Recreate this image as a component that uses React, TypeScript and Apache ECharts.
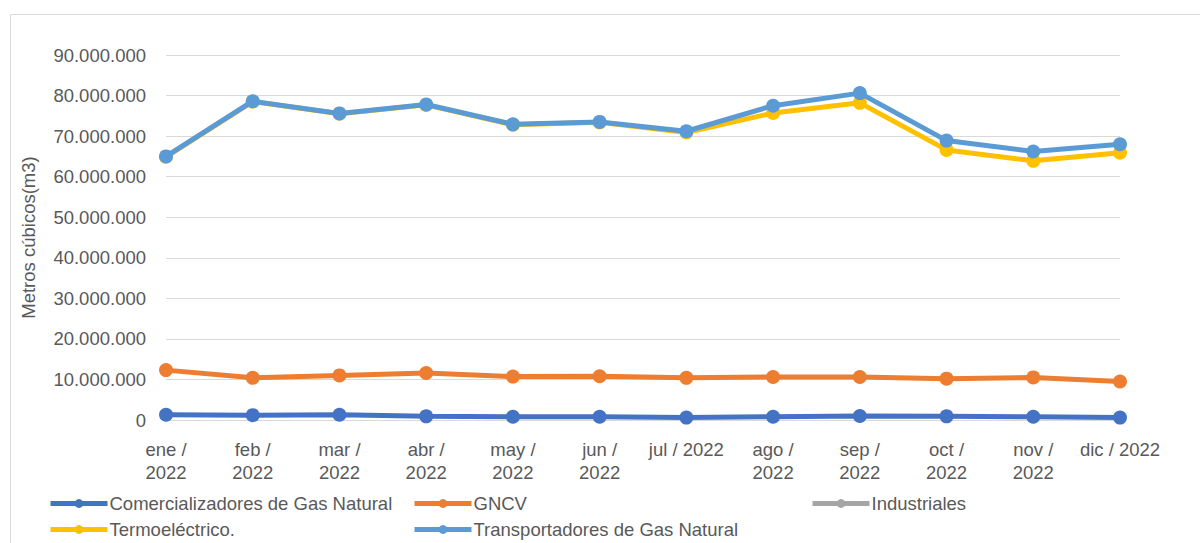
import React, { useEffect, useRef } from "react";
import * as echarts from "echarts";

const categories = [
  "ene / 2022", "feb / 2022", "mar / 2022", "abr / 2022", "may / 2022", "jun / 2022",
  "jul / 2022", "ago / 2022", "sep / 2022", "oct / 2022", "nov / 2022", "dic / 2022",
];
const comercializadores = [1.3e6, 1.2e6, 1.3e6, 0.9e6, 0.8e6, 0.8e6, 0.6e6, 0.8e6, 1.0e6, 0.9e6, 0.8e6, 0.6e6];
const gncv = [12.3e6, 10.4e6, 11.0e6, 11.6e6, 10.7e6, 10.8e6, 10.4e6, 10.6e6, 10.6e6, 10.2e6, 10.5e6, 9.5e6];
const industriales: (number | null)[] = [null, null, null, null, null, null, null, null, null, null, null, null];
const termoelectrico = [64.9e6, 78.5e6, 75.5e6, 77.7e6, 72.8e6, 73.4e6, 70.9e6, 75.7e6, 78.2e6, 66.6e6, 63.9e6, 65.9e6];
const transportadores = [65.0e6, 78.6e6, 75.6e6, 77.8e6, 72.9e6, 73.5e6, 71.2e6, 77.5e6, 80.6e6, 68.9e6, 66.2e6, 68.0e6];
const seriesNames = [
  "Comercializadores de Gas Natural", "GNCV", "Industriales", "Termoeléctrico.", "Transportadores de Gas Natural",
];
const colors = ["#4472C4", "#ED7D31", "#A5A5A5", "#FFC000", "#5B9BD5"];
const yTicks = { min: 0, max: 90000000, interval: 10000000 };

const FONT = "Liberation Sans";
const TXT = "#595959";

export default function App() {
  const ref = useRef<HTMLDivElement>(null);
  useEffect(() => {
    if (!ref.current) return;
    const chart = echarts.init(ref.current, null, { renderer: "svg" });
    const data = [comercializadores, gncv, industriales, termoelectrico, transportadores];
    const legendPos = [
      { left: 48, top: 494 },
      { left: 412, top: 494 },
      { left: 810, top: 494 },
      { left: 48, top: 520 },
      { left: 412, top: 520 },
    ];
    chart.setOption({
      animation: false,
      backgroundColor: "#ffffff",
      graphic: [
        {
          type: "rect",
          left: 8,
          top: 12,
          shape: { x: 0, y: 0, width: 1200, height: 540 },
          style: { fill: "none", stroke: "#d9d9d9", lineWidth: 1 },
          silent: true,
          z: -10,
        },
      ],
      grid: { left: 166, right: 80, top: 55, bottom: 123, containLabel: false },
      legend: legendPos.map((p, i) => ({
        left: p.left,
        top: p.top,
        itemWidth: 57,
        itemHeight: 11,
        itemGap: 0,
        padding: 0,
        selectedMode: false,
        lineStyle: { width: 5 },
        data: [seriesNames[i]],
        textStyle: { fontFamily: FONT, fontSize: 18.5, color: TXT, padding: [0, 0, 0, -3] },
      })),
      xAxis: {
        type: "category",
        data: categories,
        boundaryGap: false,
        axisLine: { show: true, lineStyle: { color: "#d9d9d9", width: 1 } },
        axisTick: { show: false },
        axisLabel: {
          interval: 0,
          margin: 18,
          fontFamily: FONT,
          fontSize: 18.5,
          color: TXT,
          lineHeight: 23,
          formatter: (v: string) =>
            v.startsWith("jul") || v.startsWith("dic") ? v : v.replace(" / ", " /\n"),
        },
      },
      yAxis: {
        type: "value",
        min: yTicks.min,
        max: yTicks.max,
        interval: yTicks.interval,
        name: "Metros cúbicos(m3)",
        nameLocation: "middle",
        nameRotate: 90,
        nameGap: 128,
        nameTextStyle: { fontFamily: FONT, fontSize: 18.5, color: TXT },
        axisLine: { show: false },
        axisTick: { show: false },
        splitLine: { lineStyle: { color: "#d9d9d9", width: 1 } },
        axisLabel: {
          margin: 20,
          fontFamily: FONT,
          fontSize: 18.5,
          color: TXT,
          formatter: (v: number) => String(Math.round(v)).replace(/\B(?=(\d{3})+(?!\d))/g, "."),
        },
      },
      series: data.map((d, i) => ({
        name: seriesNames[i],
        type: "line",
        data: d,
        color: colors[i],
        symbol: "circle",
        symbolSize: 14,
        showAllSymbol: true,
        lineStyle: { width: 5, color: colors[i] },
        itemStyle: { color: colors[i] },
        z: 2 + i,
      })),
    });
    return () => chart.dispose();
  }, []);
  return <div ref={ref} style={{ width: 1200, height: 543, position: "absolute", left: 0, top: 0 }} />;
}
